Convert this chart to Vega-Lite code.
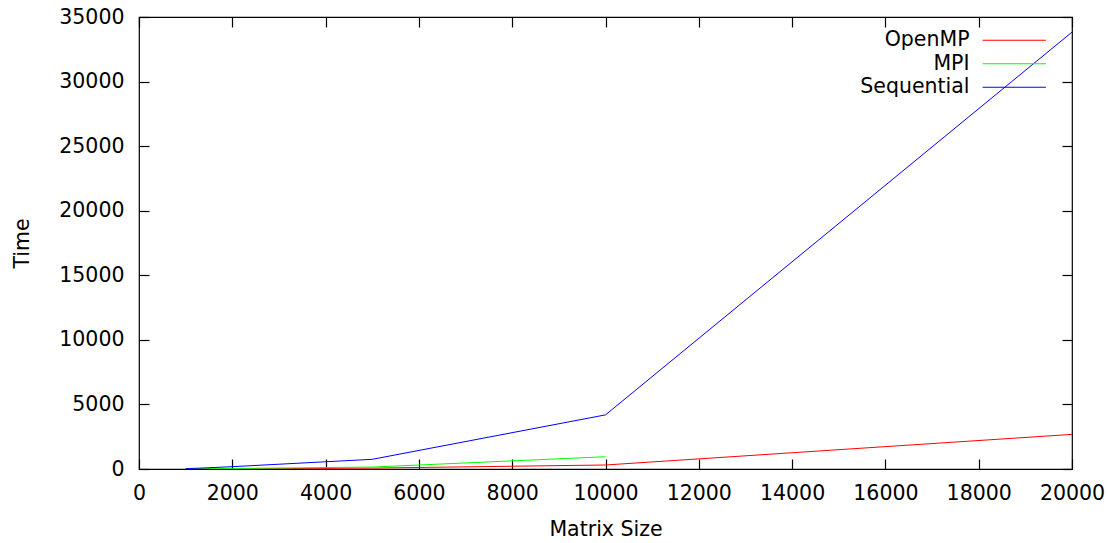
{
  "$schema": "https://vega.github.io/schema/vega-lite/v6.json",
  "width": 933,
  "height": 452,
  "autosize": "none",
  "padding": {"left": 139, "top": 17, "right": 36, "bottom": 74},
  "background": "white",
  "config": {
    "font": "DejaVu Sans",
    "view": {"stroke": "black", "strokeWidth": 1.2},
    "axis": {
      "labelFont": "DejaVu Sans",
      "titleFont": "DejaVu Sans",
      "labelFontSize": 20.5,
      "titleFontSize": 20.5,
      "labelColor": "black",
      "titleColor": "black",
      "titleFontWeight": "normal",
      "grid": false,
      "domain": false,
      "tickColor": "black",
      "tickSize": -10,
      "tickWidth": 1.2
    }
  },
  "data": {
    "values": [
      {"series": "OpenMP", "size": 1000, "time": 2},
      {"series": "OpenMP", "size": 2000, "time": 10},
      {"series": "OpenMP", "size": 5000, "time": 70},
      {"series": "OpenMP", "size": 10000, "time": 310},
      {"series": "OpenMP", "size": 20000, "time": 2680},
      {"series": "MPI", "size": 1000, "time": 10},
      {"series": "MPI", "size": 2000, "time": 40},
      {"series": "MPI", "size": 5000, "time": 150},
      {"series": "MPI", "size": 10000, "time": 950},
      {"series": "Sequential", "size": 1000, "time": 20},
      {"series": "Sequential", "size": 2000, "time": 180},
      {"series": "Sequential", "size": 5000, "time": 750},
      {"series": "Sequential", "size": 10000, "time": 4190},
      {"series": "Sequential", "size": 20000, "time": 33830}
    ]
  },
  "layer": [
    {
      "mark": {"type": "line", "strokeWidth": 1, "clip": true},
      "encoding": {
        "x": {
          "field": "size", "type": "quantitative",
          "scale": {"domain": [0, 20000], "nice": false, "zero": false},
          "axis": {"values": [0,2000,4000,6000,8000,10000,12000,14000,16000,18000,20000], "format": "d", "labelPadding": 24, "title": "Matrix Size", "titlePadding": 16, "labelFlush": false, "labelOverlap": false}
        },
        "y": {
          "field": "time", "type": "quantitative",
          "scale": {"domain": [0, 35000], "nice": false},
          "axis": {"values": [0,5000,10000,15000,20000,25000,30000,35000], "labelPadding": 25, "title": "Time", "titlePadding": 26, "format": "d", "labelFlush": false}
        },
        "color": {
          "field": "series", "type": "nominal",
          "scale": {"domain": ["OpenMP", "MPI", "Sequential"], "range": ["#ff0000", "#00ff00", "#0000ff"]},
          "legend": {
            "title": null,
            "orient": "none",
            "legendX": 865,
            "legendY": 13,
            "padding": 0,
            "labelFont": "DejaVu Sans",
            "labelFontSize": 20.5,
            "labelColor": "black",
            "labelAlign": "right",
            "labelOffset": -55,
            "symbolType": "M-10,0H10",
            "symbolSize": 40,
            "symbolStrokeWidth": 1.2,
            "rowPadding": 2.5
          }
        }
      }
    },
    {
      "mark": {"type": "point", "opacity": 0},
      "encoding": {
        "x": {"field": "size", "type": "quantitative", "axis": {"orient": "top", "labels": false, "title": null, "values": [0,2000,4000,6000,8000,10000,12000,14000,16000,18000,20000]}},
        "y": {"field": "time", "type": "quantitative", "axis": {"orient": "right", "labels": false, "title": null, "values": [0,5000,10000,15000,20000,25000,30000,35000]}}
      }
    }
  ],
  "resolve": {"axis": {"x": "independent", "y": "independent"}}
}
